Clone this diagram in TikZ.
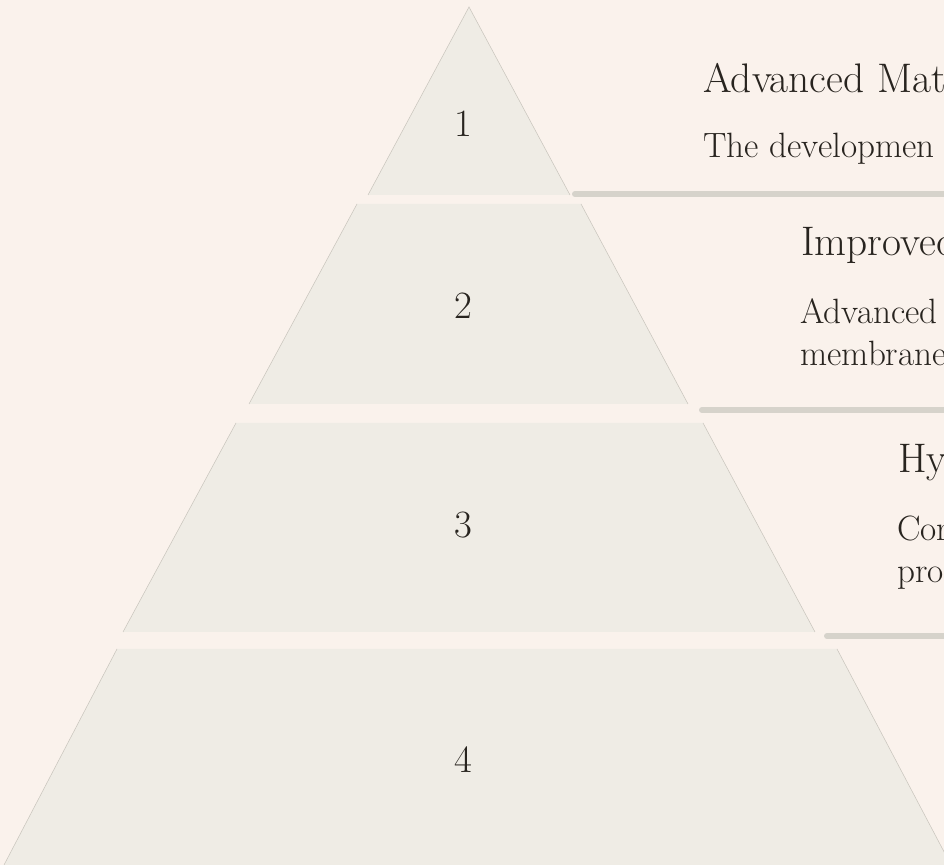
\documentclass[tikz,border=0pt]{standalone}
\usepackage{tikz}
\definecolor{paper}{HTML}{FAF2EC}
\definecolor{tierfill}{HTML}{EFECE5}
\definecolor{tieredge}{HTML}{C9C5BD}
\definecolor{barcol}{HTML}{D6D3CB}
\definecolor{ink}{HTML}{28241F}
\tikzset{
	tier/.style={fill=tierfill, draw=none},
	tierside/.style={draw=tieredge, line width=0.3pt},
	bar/.style={draw=barcol, line width=3.4pt, line cap=round},
	num/.style={text=ink, font=\fontsize{22}{26}\selectfont, inner sep=0pt},
	title/.style={text=ink, font=\fontsize{23.5}{28}\selectfont, anchor=base west, inner sep=0pt},
	desc/.style={text=ink, font=\fontsize{20}{24}\selectfont, anchor=base west, inner sep=0pt},
}

\begin{document}
\begin{tikzpicture}
				%%%%% START %%%%%
				\fill[paper] (0, 0) rectangle (18.88, 17.3);
				\useasboundingbox (0, 0) rectangle (18.88, 17.3);
				\clip (0, 0) rectangle (18.88, 17.3);
				
				% tier 1 (top)
				\fill[tier] (9.38, 17.16) -- (11.40, 13.40) -- (7.36, 13.40) -- cycle;
				\draw[tierside] (7.36, 13.40) -- (9.38, 17.16) -- (11.40, 13.40);
				
				% tier 2
				\fill[tier] (7.14, 13.22) -- (11.62, 13.22) -- (13.76, 9.22) -- (4.98, 9.22) -- cycle;
				\draw[tierside] (7.14, 13.22) -- (4.98, 9.22);
				\draw[tierside] (11.62, 13.22) -- (13.76, 9.22);
				
				% tier 3
				\fill[tier] (4.72, 8.84) -- (14.06, 8.84) -- (16.30, 4.66) -- (2.46, 4.66) -- cycle;
				\draw[tierside] (4.72, 8.84) -- (2.46, 4.66);
				\draw[tierside] (14.06, 8.84) -- (16.30, 4.66);
				
				% tier 4 (base)
				\fill[tier] (2.34, 4.32) -- (16.74, 4.32) -- (19.02, 0) -- (0.08, 0) -- cycle;
				\draw[tierside] (2.34, 4.32) -- (0.08, 0);
				\draw[tierside] (16.74, 4.32) -- (19.02, 0);
				
				% level numbers
				\node[num] (n1) at (9.26, 14.82) {1};
				\node[num] (n2) at (9.26, 11.18) {2};
				\node[num] (n3) at (9.26, 6.80) {3};
				\node[num] (n4) at (9.26, 2.10) {4};
				
				% separator bars
				\draw[bar] (11.50, 13.42) -- (19.5, 13.42);
				\draw[bar] (14.04, 9.10) -- (19.5, 9.10);
				\draw[bar] (16.54, 4.58) -- (19.5, 4.58);
				
				% labels
				\node[title] (t1) at (14.06, 15.44) {Advanced Mat};
				\node[desc] (d1) at (14.06, 14.14) {The developmen};
				
				\node[title] (t2) at (16.02, 12.18) {Improved};
				\node[desc] (d2a) at (16.00, 10.82) {Advanced};
				\node[desc] (d2b) at (16.00, 9.98) {membrane};
				
				\node[title] (t3) at (17.96, 7.84) {Hy};
				\node[desc] (d3a) at (17.94, 6.48) {Cor};
				\node[desc] (d3b) at (17.94, 5.64) {pro};
				%%%%% END %%%%%
\end{tikzpicture}
\end{document}
